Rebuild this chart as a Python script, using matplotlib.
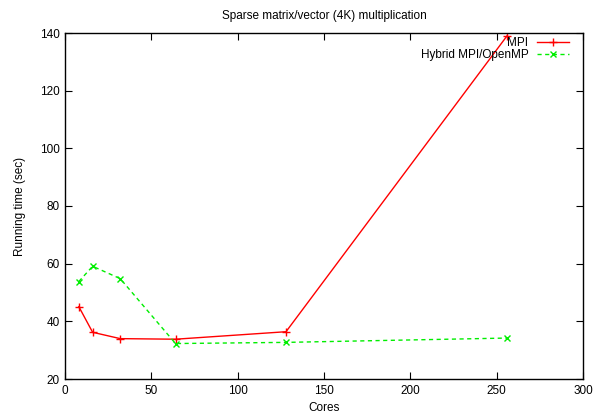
import matplotlib
matplotlib.use("Agg")
import matplotlib.pyplot as plt

cores = [8, 16, 32, 64, 128, 256]
mpi_time = [45.1, 36.2, 34.0, 33.8, 36.4, 139.0]
hybrid_time = [53.8, 59.1, 54.8, 32.3, 32.7, 34.2]

x_ticks = [0, 50, 100, 150, 200, 250, 300]
y_ticks = [20, 40, 60, 80, 100, 120, 140]

plt.rcParams["font.family"] = ["Liberation Sans", "DejaVu Sans"]
plt.rcParams["font.size"] = 8.5

fig = plt.figure(figsize=(5.95, 4.17), dpi=100)
ax = fig.add_axes([65 / 595, 38 / 417, 518 / 595, 346 / 417])

ax.plot(cores, mpi_time, color="#ff0000", linestyle="-", linewidth=1.0,
        marker="+", markersize=6, markeredgewidth=1.0, label="MPI")
ax.plot(cores, hybrid_time, color="#00ee00", linestyle=(0, (3, 2.5)), linewidth=1.0,
        marker="x", markersize=5, markeredgewidth=1.0, label="Hybrid MPI/OpenMP")

ax.set_xlim(0, 300)
ax.set_ylim(20, 140)
ax.set_xticks(x_ticks)
ax.set_yticks(y_ticks)
ax.tick_params(direction="in", top=True, right=True, length=5, width=0.8, pad=4)
for s in ax.spines.values():
    s.set_linewidth(1.0)

ax.set_title("Sparse matrix/vector (4K) multiplication", fontsize=8.5, pad=10)
ax.set_xlabel("Cores", labelpad=4)
ax.set_ylabel("Running time (sec)", labelpad=10)

# legend: text left of the sample, no frame, pinned near the top-right corner
ax.legend(loc="upper right", bbox_to_anchor=((569 - 65) / 518, (379 - 37) / 346),
          frameon=False, markerfirst=False, handlelength=2.7, borderaxespad=0,
          borderpad=0, labelspacing=0.0, handletextpad=0.75, fontsize=8.5)

fig.savefig("out.png", dpi=100)
